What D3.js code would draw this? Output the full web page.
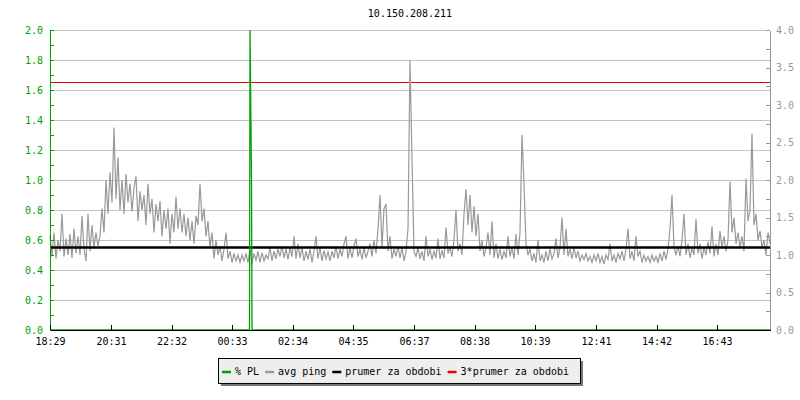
<!DOCTYPE html>
<html><head><meta charset="utf-8">
<script src="https://cdn.jsdelivr.net/npm/d3@7"></script>
<style>
body{margin:0;background:#fff;}
svg{display:block;font-family:"DejaVu Sans Mono",monospace;font-size:10px;}
</style></head>
<body><svg id="c" width="800" height="400"></svg>
<script>
// ---- data ----
const title = "10.150.208.211";
const xTickLabels = ["18:29","20:31","22:32","00:33","02:34","04:35","06:37","08:38","10:39","12:41","14:42","16:43"];
const sampleStepMin = 4; // minutes between ping samples
const pingValues = [
1.25,0.98,1.30,0.95,1.20, 1.05,1.55,0.98,1.22,1.00, 1.28,0.96,1.35,1.02,1.25, 1.00,1.52,1.08,0.92,1.55,
1.05,1.40,1.10,1.30,1.12, 1.25,1.62,1.30,2.00,1.55, 2.10,1.70,2.70,1.75,2.30, 1.60,2.00,1.55,2.08,1.70,
1.95,1.58,1.90,2.05,1.45, 1.85,1.60,1.80,1.40,1.95, 1.55,1.75,1.30,1.68,1.45, 1.72,1.25,1.60,1.35,1.62,
1.15,1.55,1.30,1.78,1.35, 1.62,1.30,1.55,1.25,1.50, 1.20,1.45,1.15,1.52,1.40, 1.95,1.45,1.62,1.25,1.45,
1.10,1.30,0.95,1.20,1.00, 1.12,0.92,1.08,1.30,0.95, 1.05,0.90,1.02,0.92,1.00, 0.90,1.00,0.92,1.02,0.90,
1.08,0.88,1.02,0.93,1.05, 0.90,1.03,0.92,1.00,0.95, 1.10,0.92,1.05,0.95,1.08, 0.98,1.12,0.96,1.08,0.94,
1.10,0.98,1.25,0.95,1.15, 0.96,1.10,0.92,1.05,0.94, 1.08,0.90,1.05,1.25,0.95, 1.10,0.92,1.06,0.95,1.04,
0.92,1.05,0.96,1.12,0.95, 1.08,0.98,1.15,1.25,0.95, 1.10,0.96,1.12,1.22,0.98, 1.08,0.94,1.10,0.96,1.05,
1.15,0.98,1.20,1.02,1.35, 1.80,1.10,1.62,1.68,1.05, 1.25,0.95,1.08,0.98,1.12, 0.96,1.10,0.92,1.05,1.35,
3.60,2.28,1.05,0.98,1.10, 0.95,1.05,0.92,1.25,0.98, 1.08,0.94,1.05,0.96,1.22, 0.95,1.06,0.96,1.37,1.02,
1.10,0.98,1.20,1.60,1.05, 1.15,1.00,1.55,1.88,1.40, 1.80,1.30,1.65,1.25,1.55, 1.05,1.20,0.98,1.10,1.30,
1.00,1.45,0.96,1.15,0.95, 1.08,0.94,1.05,0.96,1.25, 0.98,1.10,0.95,1.28,1.00, 1.30,2.60,1.95,1.15,1.00,
1.08,0.92,1.02,0.90,1.20, 0.92,1.00,0.90,1.05,0.92, 1.08,0.95,1.02,1.22,0.96, 1.10,1.50,1.00,1.35,0.98,
1.08,0.95,1.10,0.96,1.05, 0.92,1.00,0.94,1.02,0.92, 0.98,0.90,1.00,0.92,1.02, 0.90,0.98,0.88,1.00,0.94,
1.15,0.92,1.00,0.90,1.02, 0.95,1.05,0.92,1.08,1.35, 0.95,1.05,0.92,1.25,0.98, 1.05,0.90,1.00,0.92,0.98,
0.90,1.00,0.92,0.98,0.90, 1.02,0.92,1.05,0.94,1.08, 1.35,1.80,1.10,1.00,1.12, 0.98,1.20,1.55,1.00,1.15,
0.96,1.10,1.00,1.48,1.02, 1.15,0.95,1.10,1.00,1.18, 1.02,1.38,0.98,1.15,1.00, 1.32,1.10,1.25,1.05,1.20,
1.98,1.30,1.50,1.15,1.30, 1.10,1.25,1.05,2.02,1.45, 1.60,2.62,1.40,1.55,1.20, 1.32,1.10,1.20,1.00,1.30,
1.15];
const plTimesMin = [0, 399, 400, 403, 404, 1440];
const plValues   = [0, 0,   2.0, 1.0, 0,   0];
const meanPing = 1.1;
const legendLabels = ["% PL","avg ping","prumer za obdobi","3*prumer za obdobi"];
const colors = {pl:"#00a000", ping:"#999999", mean:"#000000", mean3:"#ee0000", grid:"#c4c4c4"};

// ---- layout ----
const svg = d3.select("#c");
const L = 50, R = 770, T = 30, B = 330;
const x = d3.scaleLinear().domain([0, 1440]).range([L, R]);
const yL = d3.scaleLinear().domain([0, 2]).range([B, T]);
const yR = d3.scaleLinear().domain([0, 4]).range([B, T]);

svg.append("text").attr("x", (L+R)/2).attr("y", 17).attr("text-anchor","middle").attr("fill","#000").text(title);

// grid
svg.append("g").attr("transform",`translate(${L},0)`)
  .call(d3.axisLeft(yL).tickValues(d3.range(1,11).map(i=>i*0.2)).tickSize(-(R-L)).tickFormat(""))
  .call(g=>{g.select(".domain").remove(); g.selectAll("line").attr("stroke",colors.grid).attr("shape-rendering","crispEdges");});

// red 3*mean
svg.append("line").attr("x1",L).attr("x2",R).attr("y1",yR(3*meanPing)).attr("y2",yR(3*meanPing))
  .attr("stroke",colors.mean3).attr("stroke-width",1).attr("shape-rendering","crispEdges");

// ping line
svg.append("path").datum(pingValues)
  .attr("fill","none").attr("stroke",colors.ping).attr("stroke-width",1.2)
  .attr("d", d3.line().x((d,i)=>x(i*sampleStepMin)).y(d=>yR(d)));

// mean line
svg.append("line").attr("x1",L).attr("x2",R).attr("y1",yR(meanPing)).attr("y2",yR(meanPing))
  .attr("stroke",colors.mean).attr("stroke-width",2.6);

// PL line
svg.append("path").datum(plTimesMin.map((t,i)=>[t,plValues[i]]))
  .attr("fill","none").attr("stroke",colors.pl).attr("stroke-width",1.3)
  .attr("d", d3.line().x(d=>x(d[0])).y(d=>yL(d[1])));

// left axis
const gl = svg.append("g").attr("transform",`translate(${L},0)`)
  .call(d3.axisLeft(yL).tickValues(d3.range(0,21).map(i=>i/10)).tickSizeInner(-4).tickSizeOuter(0).tickPadding(7)
    .tickFormat((d,i)=> i%2===0 ? d.toFixed(1) : ""));
gl.selectAll("path,line").attr("stroke",colors.pl).attr("shape-rendering","crispEdges");
gl.selectAll("text").attr("fill",colors.pl).style("font-family","DejaVu Sans Mono").style("font-size","10px");

// right axis
const gr = svg.append("g").attr("transform",`translate(${R},0)`)
  .call(d3.axisRight(yR).tickValues(d3.range(0,17).map(i=>i/4)).tickSizeInner(-4).tickSizeOuter(0).tickPadding(6)
    .tickFormat((d,i)=> i%2===0 ? d.toFixed(1) : ""));
gr.selectAll("path,line").attr("stroke","#999").attr("shape-rendering","crispEdges");
gr.selectAll("text").attr("fill","#999").style("font-family","DejaVu Sans Mono").style("font-size","10px");

// x axis
const xTickMin = xTickLabels.map(s=>{const [h,m]=s.split(":").map(Number); let v=(h*60+m)-(18*60+29); if(v<0)v+=1440; return v;});
const gx = svg.append("g").attr("transform",`translate(0,${B})`)
  .call(d3.axisBottom(x).tickValues(xTickMin).tickSizeInner(-5).tickSizeOuter(0).tickPadding(8)
    .tickFormat((d,i)=>xTickLabels[i]));
gx.selectAll("path,line").attr("stroke","#000").attr("shape-rendering","crispEdges");
gx.selectAll("text").attr("fill","#000").style("font-family","DejaVu Sans Mono").style("font-size","10px");

// legend
const lg = svg.append("g");
const lx = 218, ly = 358, lw = 362, lh = 25;
lg.append("rect").attr("x",lx+3).attr("y",ly+3).attr("width",lw).attr("height",lh).attr("fill","#777");
lg.append("rect").attr("x",lx+0.5).attr("y",ly+0.5).attr("width",lw).attr("height",lh).attr("fill","#eeeeee").attr("stroke","#000");
const legColors = [colors.pl, colors.ping, colors.mean, colors.mean3];
let cx = lx + 4;
legendLabels.forEach((lab,i)=>{
  lg.append("line").attr("x1",cx).attr("x2",cx+9).attr("y1",ly+14).attr("y2",ly+14).attr("stroke",legColors[i]).attr("stroke-width",2.5);
  const t = lg.append("text").attr("x",cx+13).attr("y",ly+16.5).attr("fill","#000").text(lab);
  cx += 13 + t.node().getComputedTextLength() + 6;
});
</script></body></html>
